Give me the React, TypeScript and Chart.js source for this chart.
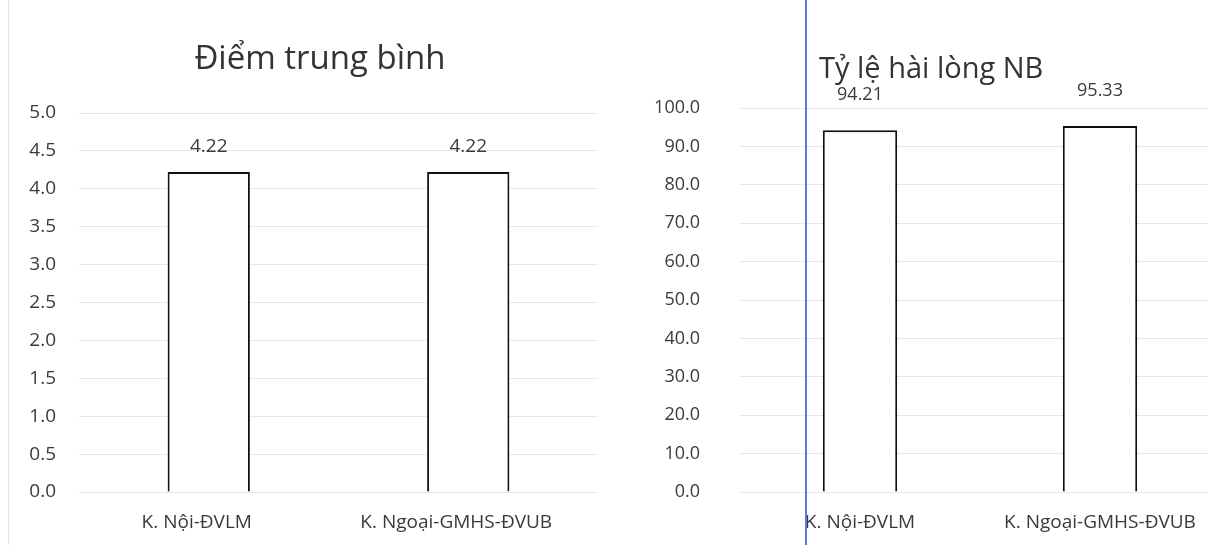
import React, { useEffect, useRef } from "react";
import { Chart, registerables } from "chart.js";

Chart.register(...registerables);

const categories = ["K. Nội-ĐVLM", "K. Ngoại-GMHS-ĐVUB"];
const avgScores = [4.22, 4.22];
const satisfactionRates = [94.21, 95.33];
const avgTickValues = [0, 0.5, 1, 1.5, 2, 2.5, 3, 3.5, 4, 4.5, 5];
const rateTickValues = [0, 10, 20, 30, 40, 50, 60, 70, 80, 90, 100];
const avgTitle = "Điểm trung bình";
const rateTitle = "Tỷ lệ hài lòng NB";

const FONT = "'Open Sans', 'Noto Sans', sans-serif";
const TEXT = "#3a3a3a";

const valueLabels = {
  id: "valueLabels",
  afterDatasetsDraw(chart: any, _args: any, opts: any) {
    const ctx = chart.ctx;
    const meta = chart.getDatasetMeta(0);
    ctx.save();
    ctx.font = `${opts.size}px ${FONT}`;
    ctx.fillStyle = TEXT;
    ctx.textAlign = "center";
    ctx.textBaseline = "middle";
    meta.data.forEach((el: any, i: number) => {
      const v = chart.data.datasets[0].data[i];
      ctx.fillText(Number(v).toFixed(2), el.x, el.y - opts.offset);
    });
    ctx.restore();
  },
};

function makeConfig(values: number[], ticks: number[], o: any): any {
  return {
    type: "bar",
    data: {
      labels: categories,
      datasets: [
        {
          data: values,
          backgroundColor: "#ffffff",
          borderColor: "#111111",
          borderWidth: 2,
          borderSkipped: "bottom",
          barPercentage: o.barPct,
          categoryPercentage: 1,
        },
      ],
    },
    plugins: [valueLabels],
    options: {
      animation: false,
      responsive: false,
      layout: { padding: { top: o.top, right: o.right, left: 0, bottom: 0 } },
      plugins: {
        legend: { display: false },
        title: { display: false },
        tooltip: { enabled: false },
        valueLabels: { size: o.valueSize, offset: o.offset },
      },
      scales: {
        x: {
          grid: { display: false, drawTicks: false },
          border: { display: false },
          ticks: {
            color: TEXT,
            font: { family: FONT, size: o.catSize },
            padding: 19,
            labelOffset: o.labelOffset,
          },
          afterFit(scale: any) {
            scale.height = o.xHeight;
          },
        },
        y: {
          min: ticks[0],
          max: ticks[ticks.length - 1],
          afterBuildTicks(scale: any) {
            scale.ticks = ticks.map((v) => ({ value: v }));
          },
          afterFit(scale: any) {
            scale.width = o.yWidth;
          },
          grid: { color: "rgba(0,0,0,0.09)", drawTicks: false, lineWidth: 1 },
          border: { display: false },
          ticks: {
            color: TEXT,
            font: { family: FONT, size: o.tickSize },
            padding: o.tickPad,
            callback: (v: any) => Number(v).toFixed(1),
          },
        },
      },
    },
  };
}

function BarChart(props: { values: number[]; ticks: number[]; w: number; h: number; opts: any }) {
  const ref = useRef<HTMLCanvasElement | null>(null);
  useEffect(() => {
    if (!ref.current) return;
    const chart = new Chart(ref.current, makeConfig(props.values, props.ticks, props.opts));
    return () => chart.destroy();
  }, []);
  return <canvas ref={ref} width={props.w} height={props.h} style={{ width: props.w, height: props.h, display: "block" }} />;
}

export default function App() {
  return (
    <div style={{ position: "absolute", left: 0, top: 0, width: 1208, height: 545, background: "#fff", overflow: "hidden" }}>
      <div style={{ position: "absolute", left: 8, top: 0, width: 1, height: 545, background: "#e6e6e6" }} />
      <div style={{ position: "absolute", left: 0, top: 0 }}>
        <BarChart
          values={avgScores}
          ticks={avgTickValues}
          w={640}
          h={545}
          opts={{
            yWidth: 79,
            tickPad: 23,
            top: 113,
            right: 42,
            xHeight: 53,
            offset: 26,
            barPct: 0.317,
            tickSize: 19,
            valueSize: 19,
            catSize: 19,
            labelOffset: -12,
          }}
        />
      </div>
      <div style={{ position: "absolute", left: 620, top: 0 }}>
        <BarChart
          values={satisfactionRates}
          ticks={rateTickValues}
          w={600}
          h={545}
          opts={{
            yWidth: 120,
            tickPad: 40,
            top: 108,
            right: 0,
            xHeight: 53,
            offset: 35,
            barPct: 0.31,
            tickSize: 18,
            valueSize: 18,
            catSize: 19,
            labelOffset: 0,
          }}
        />
      </div>
      <div
        style={{
          position: "absolute",
          left: 0,
          width: 640,
          top: 35,
          textAlign: "center",
          fontFamily: FONT,
          fontSize: 33,
          lineHeight: "44px",
          color: "#333",
        }}
      >
        {avgTitle}
      </div>
      <div
        style={{
          position: "absolute",
          left: 819,
          top: 47,
          fontFamily: FONT,
          fontSize: 29,
          lineHeight: "40px",
          color: "#333",
          whiteSpace: "nowrap",
        }}
      >
        {rateTitle}
      </div>
      <div style={{ position: "absolute", left: 805, top: 0, width: 2, height: 545, background: "#5b78d8" }} />
    </div>
  );
}
